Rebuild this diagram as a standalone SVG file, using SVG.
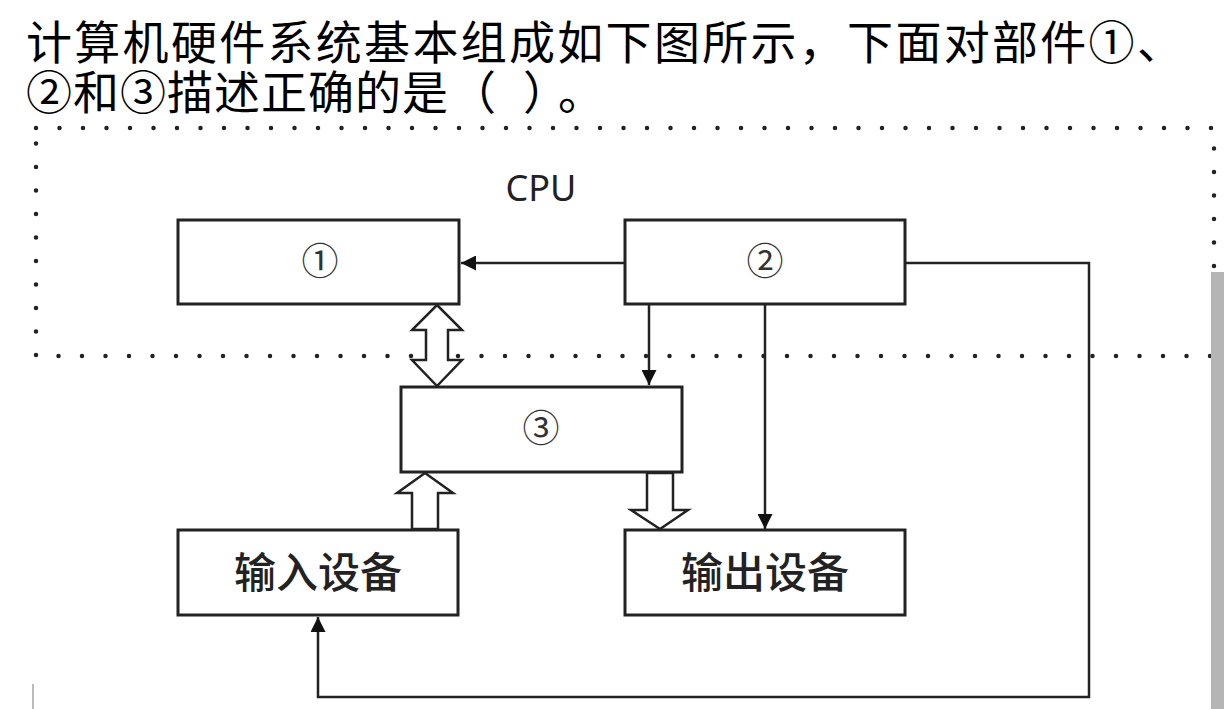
<svg xmlns="http://www.w3.org/2000/svg" width="1224" height="709" viewBox="0 0 1224 709">
<style>
.title{font-family:"Noto Sans CJK SC","Noto Sans",sans-serif;font-size:46px;fill:#000;text-spacing-trim:space-all}
.box{fill:#fff;stroke:#222;stroke-width:3}
.num{font-family:"Noto Sans CJK SC","DejaVu Sans",sans-serif;font-size:37px;fill:#333;text-anchor:middle}
.lbl{font-family:"Noto Sans CJK SC",sans-serif;font-size:42px;font-weight:500;fill:#222;text-anchor:middle}
.cpu{font-family:"Noto Sans","DejaVu Sans",sans-serif;font-size:36px;fill:#222;text-anchor:middle}
.line{fill:none;stroke:#222;stroke-width:2.5}
.hollow{fill:#fff;stroke:#222;stroke-width:2.5;stroke-linejoin:miter}
.dots{fill:none;stroke:#222;stroke-width:4.5;stroke-linecap:round;stroke-dasharray:0 23.5}
</style>
<defs>
<marker id="ah" viewBox="0 0 10 10" refX="10" refY="5" markerWidth="22" markerHeight="15" markerUnits="userSpaceOnUse" orient="auto">
<path d="M0,0 L10,5 L0,10 z" fill="#111"/>
</marker>
</defs>
<rect width="1224" height="709" fill="#fff"/>
<text class="title" x="26" y="59" letter-spacing="2.3">计算机硬件系统基本组成如下图所示，下面对部件①、</text>
<text class="title" x="26" y="109" letter-spacing="1">②和③描述正确的是<tspan x="450">（</tspan><tspan x="523">）</tspan><tspan x="558">。</tspan></text>
<g id="cpu-boundary">
<rect class="dots" x="36" y="128" width="1178" height="228"/>
<text class="cpu" x="541" y="201">CPU</text>
</g>
<g id="connectors">
<path class="line" d="M625,263 H461" marker-end="url(#ah)"/>
<path class="line" d="M905,263 H1089 V697 H318 V617" marker-end="url(#ah)"/>
<path class="line" d="M649,305 V385" marker-end="url(#ah)"/>
<path class="line" d="M765,305 V529" marker-end="url(#ah)"/>
<polygon class="hollow" points="437,305 462,330 448,330 448,360 462,360 437,386 412,360 426,360 426,330 412,330"/>
<polygon class="hollow" points="425,473 453,493 438,493 438,529 412,529 412,493 397,493"/>
<polygon class="hollow" points="647,473 673,473 673,510 688,510 660,529 631,510 647,510"/>
</g>
<g id="node1">
<rect class="box" x="178" y="220" width="281" height="84"/>
<text class="num" x="320" y="275">①</text>
</g>
<g id="node2">
<rect class="box" x="625" y="220" width="280" height="84"/>
<text class="num" x="765" y="275">②</text>
</g>
<g id="node3">
<rect class="box" x="401" y="387" width="281" height="85"/>
<text class="num" x="541" y="442">③</text>
</g>
<g id="input">
<rect class="box" x="178" y="530" width="280" height="85"/>
<text class="lbl" x="318" y="588">输入设备</text>
</g>
<g id="output">
<rect class="box" x="625" y="530" width="280" height="85"/>
<text class="lbl" x="765" y="588">输出设备</text>
</g>
<rect x="1211" y="272" width="13" height="437" fill="#b5b5b5"/>
<line x1="33" y1="684" x2="33" y2="709" stroke="#bbb" stroke-width="2"/>
</svg>
